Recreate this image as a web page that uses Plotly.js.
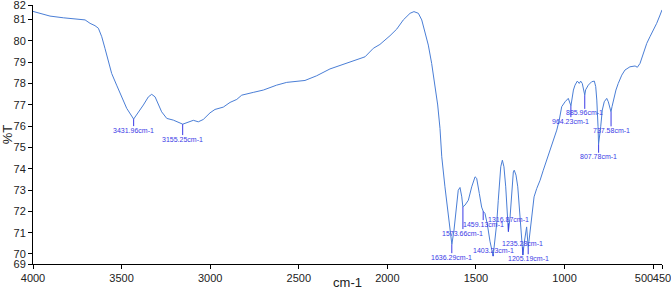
<!DOCTYPE html>
<html>
<head>
<meta charset="utf-8">
<script src="https://cdn.plot.ly/plotly-3.0.1.min.js"></script>
<style>html,body{margin:0;padding:0;background:#fff;}#chart{width:671px;height:290px;}</style>
</head>
<body>
<div id="chart"></div>
<script>
const wavenumber = [4000, 3904, 3829, 3753, 3706, 3678, 3650, 3631, 3612, 3594, 3575, 3556, 3528, 3499, 3471, 3432, 3415, 3377, 3349, 3330, 3311, 3293, 3274, 3245, 3208, 3155, 3132, 3095, 3067, 3039, 3001, 2973, 2926, 2888, 2850, 2822, 2757, 2700, 2625, 2568, 2465, 2399, 2324, 2249, 2192, 2126, 2079, 2042, 1985, 1947, 1910, 1872, 1850, 1825, 1806, 1788, 1769, 1750, 1731, 1716, 1703, 1693, 1675, 1656, 1642, 1636, 1624, 1613, 1600, 1590, 1580, 1574, 1562, 1543, 1524, 1505, 1496, 1481, 1468, 1459, 1449, 1436, 1421, 1403, 1392, 1383, 1374, 1360, 1351, 1342, 1332, 1323, 1317, 1308, 1298, 1289, 1284, 1274, 1264, 1255, 1246, 1235, 1228, 1219, 1214, 1205, 1195, 1185, 1172, 1157, 1138, 1120, 1101, 1082, 1063, 1044, 1030, 1016, 997, 979, 964, 950, 941, 928, 917, 909, 900, 886, 881, 866, 847, 832, 824, 818, 811, 808, 796, 787, 776, 762, 753, 738, 732, 721, 710, 697, 677, 659, 631, 602, 589, 574, 555, 536, 518, 499, 480, 461, 450];
const transmittance = [81.38, 81.16, 81.08, 81.02, 80.98, 80.82, 80.71, 80.59, 80.19, 79.65, 79.02, 78.47, 77.92, 77.37, 76.83, 76.33, 76.52, 76.99, 77.37, 77.49, 77.37, 76.99, 76.67, 76.36, 76.28, 76.09, 76.17, 76.27, 76.20, 76.31, 76.62, 76.78, 76.89, 77.11, 77.25, 77.45, 77.58, 77.69, 77.92, 78.05, 78.14, 78.36, 78.68, 78.90, 79.05, 79.25, 79.65, 79.83, 80.24, 80.55, 80.98, 81.29, 81.37, 81.29, 80.98, 80.43, 79.80, 78.94, 77.92, 76.99, 75.89, 74.56, 73.15, 71.90, 70.96, 70.45, 71.12, 72.06, 72.99, 73.12, 72.68, 72.21, 72.29, 72.52, 73.15, 73.62, 73.55, 72.84, 72.20, 72.00, 71.90, 71.40, 70.60, 69.90, 70.65, 71.43, 72.52, 74.09, 74.40, 74.09, 73.15, 72.06, 71.05, 71.67, 72.99, 73.85, 73.93, 73.70, 73.15, 72.06, 70.80, 69.95, 70.50, 71.10, 71.27, 70.30, 70.96, 71.90, 72.68, 73.07, 73.46, 73.93, 74.40, 74.87, 75.34, 75.81, 76.28, 76.91, 77.14, 77.30, 76.95, 77.69, 77.92, 78.11, 78.00, 78.11, 78.00, 77.45, 77.70, 77.92, 78.08, 78.11, 77.85, 77.22, 75.97, 75.15, 75.97, 76.75, 77.14, 77.30, 77.14, 76.67, 76.91, 77.37, 77.69, 78.00, 78.39, 78.63, 78.78, 78.82, 78.76, 78.94, 79.41, 79.88, 80.19, 80.50, 80.82, 81.21, 81.45];

const peakWavenumber = [3431.96, 3155.25, 1636.29, 1573.66, 1459.13, 1403.23, 1316.87, 1235.28, 1205.19, 964.23, 885.96, 807.78, 737.58];
const peakT = [76.33, 76.09, 70.45, 72.21, 72.00, 69.90, 71.05, 69.95, 70.30, 76.95, 77.45, 75.15, 76.67];
const peakLabelT = [75.81, 75.39, 69.85, 70.98, 71.40, 70.18, 71.63, 70.51, 69.80, 76.23, 76.62, 74.56, 75.80];

const xTickVals = [4000, 3500, 3000, 2500, 2000, 1500, 1000, 500, 450];
const xTickText = ['4000', '3500', '3000', '2500', '2000', '1500', '1000', '500\u00a0\u00a0\u00a0\u00a0\u00a0\u00a0', '450'];
const yMin = 69.53, yMax = 81.68;
const yTickVals = [yMax, 81, 80, 79, 78, 77, 76, 75, 74, 73, 72, 71, 70, yMin];
const yTickText = ['82', '81', '80', '79', '78', '77', '76', '75', '74', '73', '72', '71', '70', '69'];

const fontFam = 'Liberation Sans Narrow, Arial Narrow, Liberation Sans, sans-serif';
const labelColor = '#3a3ae6';
const annotations = peakWavenumber.map((w, i) => ({
  x: w, y: peakT[i], xref: 'x', yref: 'y',
  ax: w, ay: peakLabelT[i], axref: 'x', ayref: 'y',
  text: w.toFixed(2) + 'cm-1',
  showarrow: true, arrowhead: 0, arrowwidth: 1, arrowcolor: labelColor, standoff: 0,
  font: {family: fontFam, size: 7, color: labelColor},
  borderpad: 0
}));

const trace = {
  x: wavenumber, y: transmittance, type: 'scatter', mode: 'lines',
  line: {color: '#4a7ed6', width: 1}, hoverinfo: 'skip'
};

const axisFont = {family: fontFam, size: 11, color: '#222'};
const layout = {
  width: 671, height: 290,
  margin: {l: 33, r: 9, t: 5, b: 26},
  paper_bgcolor: '#fff', plot_bgcolor: '#fff',
  showlegend: false,
  xaxis: {
    range: [4000, 450], autorange: false,
    tickmode: 'array', tickvals: xTickVals, ticktext: xTickText, tickangle: 0,
    ticklabeloverflow: 'allow',
    ticks: 'outside', ticklen: 4, tickcolor: '#000', tickwidth: 1,
    showline: true, linecolor: '#000', linewidth: 1, showgrid: false, zeroline: false,
    tickfont: axisFont,
    title: {text: 'cm-1', font: {family: fontFam, size: 13, color: '#222'}, standoff: 2}
  },
  yaxis: {
    range: [yMin, yMax], autorange: false,
    tickmode: 'array', tickvals: yTickVals, ticktext: yTickText,
    ticklabeloverflow: 'allow',
    ticks: 'outside', ticklen: 4, tickcolor: '#000', tickwidth: 1,
    showline: true, linecolor: '#000', linewidth: 1, showgrid: false, zeroline: false,
    tickfont: axisFont,
    title: {text: '%T', font: {family: fontFam, size: 13, color: '#222'}, standoff: 4}
  },
  annotations: annotations
};

Plotly.newPlot('chart', [trace], layout, {staticPlot: true, displayModeBar: false});
</script>
</body>
</html>
